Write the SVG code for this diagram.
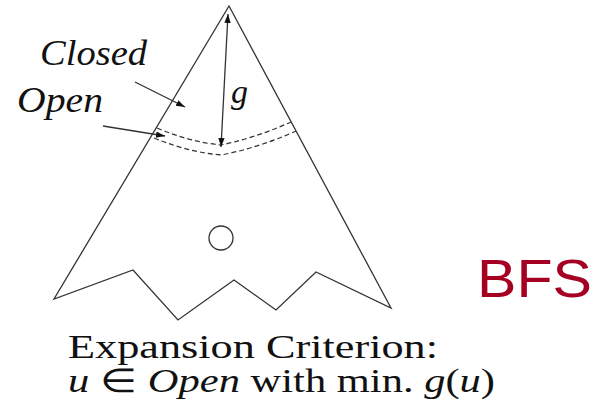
<svg xmlns="http://www.w3.org/2000/svg" width="604" height="415" viewBox="0 0 604 415">
<style>
.ln{fill:none;stroke:#333;stroke-width:1.3}
.ds{fill:none;stroke:#333;stroke-width:1.2;stroke-dasharray:5 3}
.t{font-family:'Liberation Serif','Times New Roman',serif;fill:#111}
.i{font-style:italic}
</style>
<defs>
<marker id="ah" viewBox="0 0 10 10" refX="10" refY="5" markerWidth="9" markerHeight="9" markerUnits="userSpaceOnUse" orient="auto-start-reverse">
<path d="M0,1.5 L10,5 L0,8.5 Z" fill="#111"/>
</marker>
</defs>
<rect width="604" height="415" fill="#fff"/>
<g id="tree">
<path class="ln" d="M229,6 L391,308 L316,272 L276,310 L234,280 L178,320 L133,270 L54,299 Z"/>
<path class="ds" d="M157,128 Q190,142 221,145 Q255,138 291,122"/>
<path class="ds" d="M154,138 Q188,152 221,155 Q258,148 296,131"/>
</g>
<g id="node">
<circle cx="221" cy="238" r="12" class="ln"/>
</g>
<g id="connectors">
<line x1="228" y1="14" x2="221" y2="147" class="ln" marker-start="url(#ah)" marker-end="url(#ah)"/>
<line x1="135" y1="82" x2="185" y2="107" class="ln" marker-end="url(#ah)"/>
<line x1="103" y1="126" x2="165" y2="136" class="ln" marker-end="url(#ah)"/>
</g>
<g id="labels">
<text class="t i" x="40" y="65" font-size="36" textLength="107" lengthAdjust="spacingAndGlyphs">Closed</text>
<text class="t i" x="17" y="112" font-size="36" textLength="86" lengthAdjust="spacingAndGlyphs">Open</text>
<text class="t i" x="231" y="103" font-size="34">g</text>
<text class="t" x="68" y="358" font-size="33" textLength="370" lengthAdjust="spacingAndGlyphs">Expansion Criterion:</text>
<text class="t" x="68" y="392" font-size="33" textLength="427" lengthAdjust="spacingAndGlyphs"><tspan class="i">u</tspan> ∈ <tspan class="i">Open</tspan> with min. <tspan class="i">g</tspan>(<tspan class="i">u</tspan>)</text>
<text x="477" y="297" font-family="'Liberation Sans',Arial,sans-serif" font-size="54" fill="#A50021" textLength="115" lengthAdjust="spacingAndGlyphs">BFS</text>
</g>
</svg>
